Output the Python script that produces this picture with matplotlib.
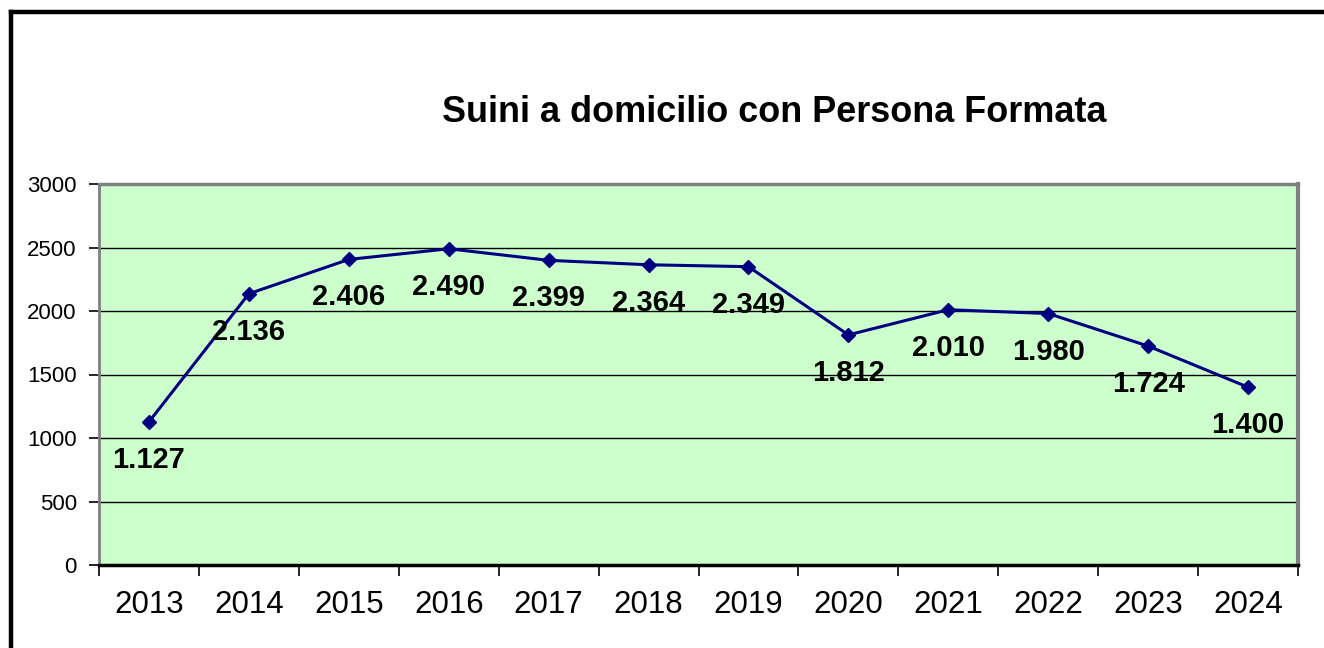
import matplotlib
matplotlib.use("Agg")
import matplotlib.pyplot as plt
from matplotlib.lines import Line2D

years = ["2013", "2014", "2015", "2016", "2017", "2018", "2019", "2020", "2021", "2022", "2023", "2024"]
values = [1127, 2136, 2406, 2490, 2399, 2364, 2349, 1812, 2010, 1980, 1724, 1400]
labels = ["1.127", "2.136", "2.406", "2.490", "2.399", "2.364", "2.349", "1.812", "2.010", "1.980", "1.724", "1.400"]
yticks = [0, 500, 1000, 1500, 2000, 2500, 3000]
title = "Suini a domicilio con Persona Formata"

plt.rcParams['font.family'] = ['Liberation Sans', 'DejaVu Sans']

W, H = 1324, 648
fig = plt.figure(figsize=(W / 100, H / 100), dpi=100)
fig.patch.set_facecolor("white")

ax = fig.add_axes([99 / W, (H - 565) / H, (1298 - 99) / W, (565 - 184) / H])
ax.set_facecolor("#CCFFCC")

x = list(range(len(years)))
ax.plot(x, values, color="#000080", lw=2.2, marker="D", markersize=7, zorder=3)

for xi, v, lab in zip(x, values, labels):
    ax.annotate(lab, (xi, v), xytext=(0, -38), textcoords="offset pixels",
                ha="center", va="center", fontsize=21, fontweight="bold", color="black", zorder=4)

ax.set_xlim(-0.5, len(years) - 0.5)
ax.set_ylim(0, 3000)
ax.set_yticks(yticks)
ax.set_yticklabels([str(t) for t in yticks], fontsize=16)
ax.tick_params(axis="y", length=7, width=1.2, pad=9, colors="black")

ax.set_xticks(x)
ax.set_xticklabels(years, fontsize=22.5)
ax.tick_params(axis="x", which="major", length=0, pad=18)
ax.set_xticks([i - 0.5 for i in range(len(years) + 1)], minor=True)
ax.tick_params(axis="x", which="minor", length=8, width=1.2, color="black")

for t in yticks[1:-1]:
    ax.axhline(t, color="black", lw=1, zorder=1)

ax.spines["top"].set_color("#808080")
ax.spines["top"].set_linewidth(2.5)
ax.spines["right"].set_color("#808080")
ax.spines["right"].set_linewidth(3)
ax.spines["left"].set_color("#808080")
ax.spines["left"].set_linewidth(2)
ax.spines["bottom"].set_color("black")
ax.spines["bottom"].set_linewidth(2.5)

fig.text(774 / W, (H - 112) / H, title, ha="center", va="center",
         fontsize=25.9, fontweight="bold", color="black")

fig.add_artist(Line2D([11 / W, 11 / W], [0, (H - 12) / H], transform=fig.transFigure,
                      color="black", lw=3.2, solid_capstyle="projecting"))
fig.add_artist(Line2D([11 / W, 1], [(H - 12) / H, (H - 12) / H], transform=fig.transFigure,
                      color="black", lw=3.2, solid_capstyle="projecting"))

fig.savefig("out.png", dpi=100, facecolor="white")
